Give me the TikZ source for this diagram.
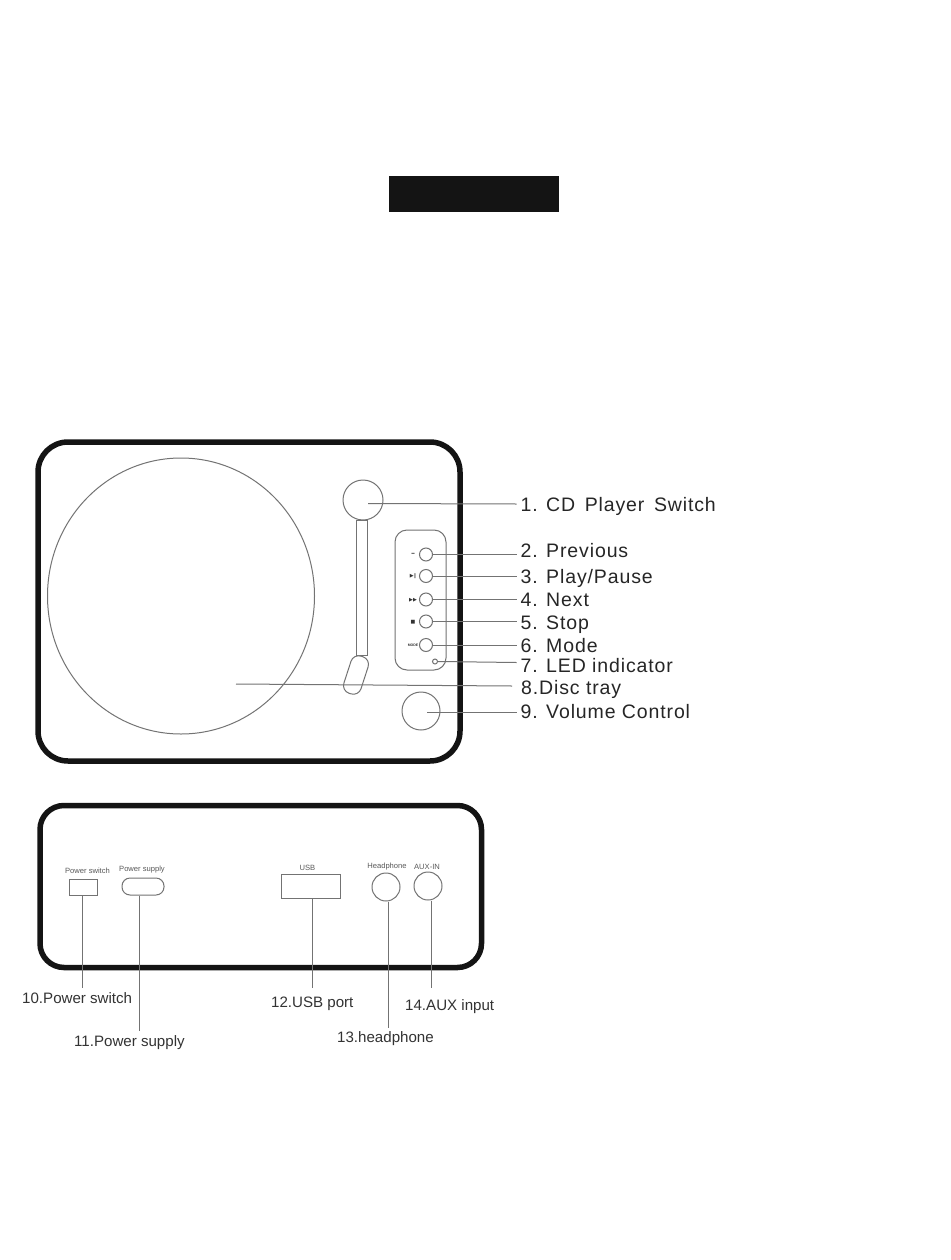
\documentclass[tikz,border=0pt]{standalone}
\usepackage{fontspec}
\usetikzlibrary{shapes.geometric}
\setmainfont{Liberation Sans}
\newfontfamily\symfont{DejaVu Sans}
\newfontfamily\labfont[LetterSpace=4.5]{Liberation Sans}
\begin{document}
\begin{tikzpicture}[x=1pt,y=-1pt,
  thin line/.style={draw=black!55,line width=1pt},
  leader/.style={draw=black!55,line width=1pt},
  case/.style={draw=black!92,line width=5.5pt,rounded corners=30pt},
  lab/.style={anchor=base west,inner sep=0pt,font=\fontsize{19.5}{21}\selectfont\labfont,text=black!85},
  blab/.style={anchor=base west,inner sep=0pt,font=\fontsize{15.1}{17}\selectfont,text=black!80},
  tiny lab/.style={inner sep=0pt,font=\fontsize{7.6}{8}\selectfont,text=black!65},
  btn/.style={circle,thin line,minimum size=13pt,inner sep=0pt},
  sym/.style={inner sep=0pt,font=\fontsize{5}{6}\selectfont\symfont,text=black!80}]
\useasboundingbox (0,0) rectangle (950,1260);
\fill[white] (0,0) rectangle (950,1260);
\node[fill=black!92,minimum width=170pt,minimum height=36pt,inner sep=0pt] (banner) at (474,194) {};
% front panel
\draw[case] (38,442) rectangle (460,761);
\node[ellipse,thin line,minimum width=267pt,minimum height=276pt,inner sep=0pt] (disc) at (181,596) {};
\draw[thin line] (356,520) rectangle (367,655);
\node[circle,thin line,fill=white,minimum size=40pt,inner sep=0pt] (cdsw) at (363,500) {};
\node[thin line,fill=white,rounded corners=8pt,minimum width=18pt,minimum height=39pt,inner sep=0pt,rotate=-18] (latch) at (356,675) {};
\draw[thin line,rounded corners=12pt] (395,530) rectangle (446,670);
\node[btn] (b2) at (426,554.5) {};
\node[btn] (b3) at (426,576) {};
\node[btn] (b4) at (426,599.5) {};
\node[btn] (b5) at (426,621.5) {};
\node[btn] (b6) at (426,645) {};
\node[circle,thin line,minimum size=5pt,inner sep=0pt] (led) at (435,661.5) {};
\node[circle,thin line,minimum size=38pt,inner sep=0pt] (vol) at (421,711) {};
\node[sym] at (413,554.5) {━};
\node[sym] at (413,576) {▶‖};
\node[sym] at (413,600) {▶▶};
\node[sym] at (413,622) {■};
\node[sym,font=\fontsize{3.5}{4}\selectfont\bfseries] at (413,645) {MODE};
% labels
\node[lab] (l1) at (520.5,511) {1. CD\, Player\, Switch};
\node[lab] (l2) at (520.5,557.7) {2. Previous};
\node[lab] (l3) at (520.5,583.3) {3. Play/Pause};
\node[lab] (l4) at (520.5,606.7) {4. Next};
\node[lab] (l5) at (520.5,629.3) {5. Stop};
\node[lab] (l6) at (520.5,652.7) {6. Mode};
\node[lab] (l7) at (520.5,672) {7. LED indicator};
\node[lab] (l8) at (521,694) {8.Disc tray};
\node[lab] (l9) at (520.5,718.3) {9. Volume Control};
\coordinate (c1) at (368,503.5);
\coordinate (e1) at (516.5,504);
\coordinate (c8) at (236,684);
\coordinate (e8) at (512,686);
\coordinate (c9) at (427,712.5);
\coordinate (x) at (516.5,0);
\draw[leader] (c1) -- (e1);
\draw[leader] (b2.east) -- (b2.east -| x);
\draw[leader] (b3.east) -- (b3.east -| x);
\draw[leader] (b4.east) -- (b4.east -| x);
\draw[leader] (b5.east) -- (b5.east -| x);
\draw[leader] (b6.east) -- (b6.east -| x);
\draw[leader] (led.east) -- ([yshift=-1pt]led.east -| x);
\draw[leader] (c8) -- (e8);
\draw[leader] (c9) -- (c9 -| x);
% rear panel
\draw[case,rounded corners=24pt] (40,805.5) rectangle (481.5,967.5);
\node[thin line,minimum width=28pt,minimum height=16pt,inner sep=0pt] (psw) at (83,887) {};
\node[thin line,rounded corners=8pt,minimum width=42pt,minimum height=17pt,inner sep=0pt] (psu) at (143,886.5) {};
\node[thin line,minimum width=59pt,minimum height=24pt,inner sep=0pt] (usb) at (310.5,886) {};
\node[circle,thin line,minimum size=28pt,inner sep=0pt] (hp) at (386,887) {};
\node[circle,thin line,minimum size=28pt,inner sep=0pt] (aux) at (428,886) {};
\node[tiny lab] at (87.5,871) {Power switch};
\node[tiny lab] at (142,870) {Power supply};
\node[tiny lab] at (307.5,868) {USB};
\node[tiny lab] at (387,867) {Headphone};
\node[tiny lab] at (427,867) {AUX-IN};
\node[blab] (l10) at (22,1003) {10.Power switch};
\node[blab] (l11) at (74,1046) {11.Power supply};
\node[blab] (l12) at (271,1007) {12.USB port};
\node[blab] (l13) at (337,1042) {13.headphone};
\node[blab] (l14) at (405,1010) {14.AUX input};
\coordinate (e10) at (82,988);
\coordinate (e11) at (139,1031);
\coordinate (e12) at (312,988);
\coordinate (e13) at (388,1028);
\coordinate (e14) at (431,988);
\draw[leader] (e10 |- psw.south) -- (e10);
\draw[leader] (e11 |- psu.south) -- (e11);
\draw[leader] (e12 |- usb.south) -- (e12);
\draw[leader] (e13 |- hp.south) -- (e13);
\draw[leader] (e14 |- aux.south) -- (e14);
\end{tikzpicture}
\end{document}
